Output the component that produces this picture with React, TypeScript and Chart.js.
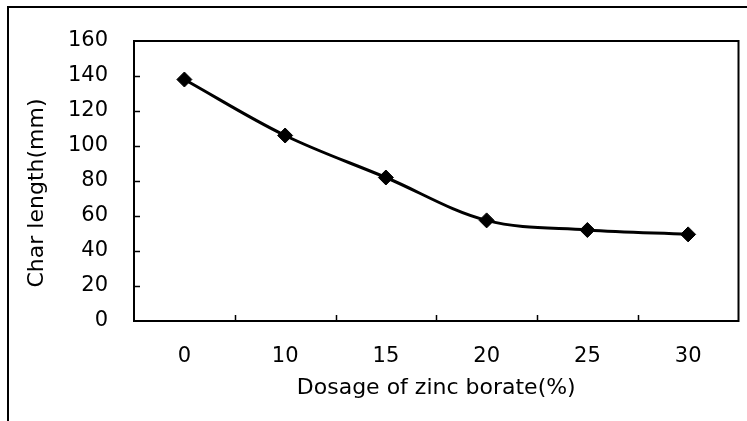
import React, { useEffect, useRef } from "react";
import { Chart, registerables } from "chart.js";

Chart.register(...registerables);

const categories = ["0", "10", "15", "20", "25", "30"];
const charLength = [138, 106, 82, 57.5, 52, 49.5];
const yMin = 0;
const yMax = 160;
const yStep = 20;
const xTitle = "Dosage of zinc borate(%)";
const yTitle = "Char length(mm)";

const FONT = "'DejaVu Sans', sans-serif";

const framePlugin = {
  id: "framePlugin",
  afterDraw(chart: any) {
    const { ctx, chartArea } = chart;
    const x = chart.scales.x;
    const y = chart.scales.y;
    ctx.save();
    ctx.strokeStyle = "#000";
    // outer frame (left & top)
    ctx.lineWidth = 2;
    ctx.beginPath();
    ctx.moveTo(8, 421);
    ctx.lineTo(8, 7);
    ctx.lineTo(747, 7);
    ctx.stroke();
    // plot box
    ctx.strokeRect(chartArea.left, chartArea.top, chartArea.right - chartArea.left, chartArea.bottom - chartArea.top);
    // inward y ticks
    ctx.lineWidth = 1.5;
    ctx.beginPath();
    for (let v = yMin + yStep; v < yMax; v += yStep) {
      const py = Math.round(y.getPixelForValue(v)) + 0.5;
      ctx.moveTo(chartArea.left, py);
      ctx.lineTo(chartArea.left + 6, py);
    }
    // inward x ticks at category boundaries
    for (let i = 0; i < categories.length - 1; i++) {
      const px = Math.round((x.getPixelForValue(i) + x.getPixelForValue(i + 1)) / 2) + 0.5;
      ctx.moveTo(px, chartArea.bottom);
      ctx.lineTo(px, chartArea.bottom - 6);
    }
    ctx.stroke();
    // y axis title
    ctx.fillStyle = "#000";
    ctx.font = `22px ${FONT}`;
    ctx.textAlign = "center";
    ctx.textBaseline = "middle";
    ctx.translate(37, (chartArea.top + chartArea.bottom) / 2 + 12);
    ctx.rotate(-Math.PI / 2);
    ctx.fillText(yTitle, 0, 0);
    ctx.restore();
  },
};

export default function App() {
  const ref = useRef<HTMLCanvasElement>(null);
  useEffect(() => {
    if (!ref.current) return;
    const chart = new Chart(ref.current, {
      type: "line",
      data: {
        labels: categories,
        datasets: [
          {
            data: charLength,
            borderColor: "#000",
            backgroundColor: "#000",
            borderWidth: 3,
            tension: 0.35,
            pointStyle: "rectRot",
            pointRadius: 7.5,
            pointBorderWidth: 1,
            pointBackgroundColor: "#000",
            pointBorderColor: "#000",
          },
        ],
      },
      options: {
        animation: false,
        responsive: false,
        maintainAspectRatio: false,
        layout: { padding: { left: 0, right: 5, top: 41, bottom: 0 } },
        plugins: { legend: { display: false }, tooltip: { enabled: false } },
        scales: {
          x: {
            type: "category",
            offset: true,
            grid: { display: false, drawTicks: false },
            border: { display: false },
            ticks: { color: "#000", font: { family: FONT, size: 21 }, padding: 23, maxRotation: 0 },
            title: {
              display: true,
              text: xTitle,
              color: "#000",
              font: { family: FONT, size: 22 },
              padding: { top: 0, bottom: 20 },
            },
            afterFit(scale: any) {
              scale.height = 100;
            },
          },
          y: {
            min: yMin,
            max: yMax,
            grid: { display: false, drawTicks: false },
            border: { display: false },
            ticks: { stepSize: yStep, color: "#000", font: { family: FONT, size: 21 }, padding: 26 },
            afterFit(scale: any) {
              scale.width = 134;
            },
          },
        },
      },
      plugins: [framePlugin],
    });
    return () => chart.destroy();
  }, []);
  return (
    <div style={{ position: "fixed", left: 0, top: 0, width: 747, height: 421, background: "#fff" }}>
      <canvas ref={ref} width={747} height={421} style={{ display: "block" }} />
    </div>
  );
}
